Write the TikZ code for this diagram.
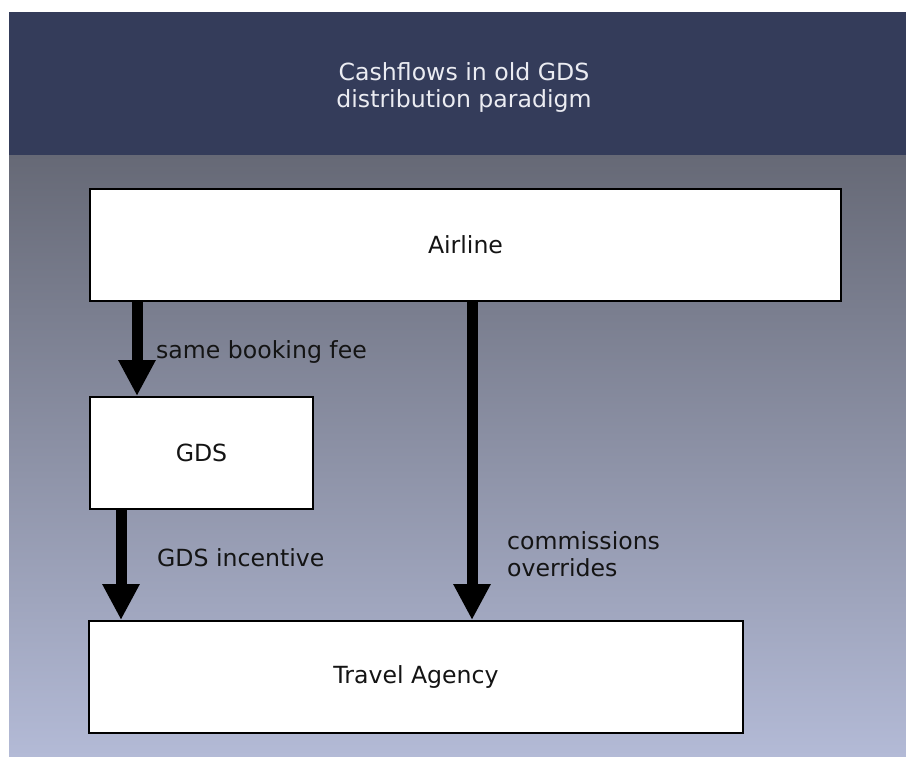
\documentclass[tikz,border=0pt]{standalone}
\usepackage{fontspec}
\setmainfont{DejaVu Sans}
\usetikzlibrary{arrows.meta}
\definecolor{bandblue}{RGB}{52,60,90}
\definecolor{gtop}{RGB}{102,105,118}
\definecolor{gbot}{RGB}{179,186,214}
\definecolor{titlegray}{RGB}{235,236,242}
\definecolor{inkgray}{RGB}{20,20,20}

\begin{document}
\begin{tikzpicture}[x=1pt,y=-1pt,
  box/.style={draw=black,line width=2pt,fill=white,anchor=north west,inner sep=0pt,
    minimum height=112pt,text=inkgray,font=\fontsize{23.6}{27}\selectfont},
  flow/.style={line width=11pt,-{Triangle[length=36pt,width=35pt]}},
  lbl/.style={inner sep=0pt,text=inkgray,font=\fontsize{23.6}{27}\selectfont}]
\useasboundingbox (0,0) rectangle (906,756);
% background panel
\fill[bandblue] (9,12) rectangle (906,155);
\shade[top color=gtop,bottom color=gbot] (9,155) rectangle (906,756);
\node[lbl,text=titlegray,align=center,anchor=base] (title) at (464,107) {Cashflows in old GDS\\distribution paradigm};
% boxes
\node[box,minimum width=751pt] (airline) at (89,188) {Airline};
\node[box,minimum width=223pt] (gds) at (89,396) {GDS};
\node[box,minimum width=654pt] (agency) at (88,620) {Travel Agency};
% cash flows
\draw[flow] ([xshift=48pt]airline.south west) -- ([xshift=48pt]gds.north west);
\draw[flow] ([xshift=32pt]gds.south west) -- ([xshift=33pt]agency.north west);
\draw[flow] ([xshift=383pt]airline.south west) -- ([xshift=384pt]agency.north west);
\node[lbl,anchor=base west] (feelbl) at (156,358) {same booking fee};
\node[lbl,anchor=base west] (inclbl) at (157,566) {GDS incentive};
\node[lbl,anchor=base west,align=left] (comlbl) at (507,576) {commissions\\overrides};
\end{tikzpicture}
\end{document}
